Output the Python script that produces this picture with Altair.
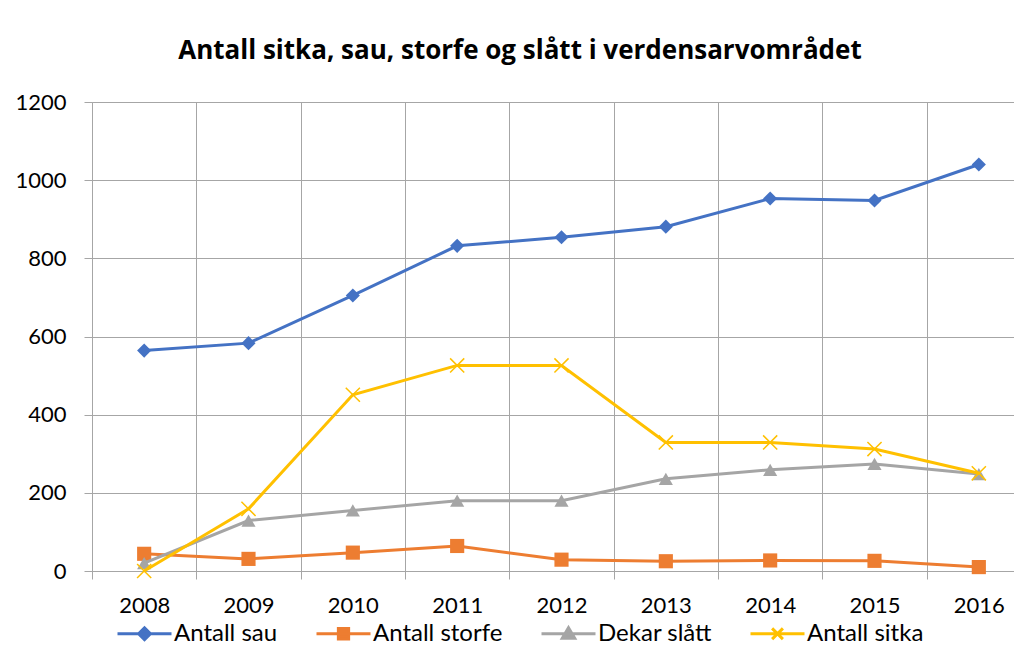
import altair as alt
import pandas as pd

years = ["2008", "2009", "2010", "2011", "2012", "2013", "2014", "2015", "2016"]
series_names = ["Antall sau", "Antall storfe", "Dekar slått", "Antall sitka"]
antall_sau = [564, 583, 705, 832, 854, 881, 953, 948, 1040]
antall_storfe = [44, 31, 47, 64, 29, 25, 27, 26, 10]
dekar_slatt = [20, 129, 155, 180, 180, 236, 259, 274, 248]
antall_sitka = [0, 159, 451, 526, 526, 329, 329, 312, 250]
values_by_series = [antall_sau, antall_storfe, dekar_slatt, antall_sitka]

colors = ["#4472C4", "#ED7D31", "#A5A5A5", "#FFC000"]
marker_shapes = ["diamond", "square", "triangle-up", "M-1,-1L1,1M-1,1L1,-1"]
marker_filled = [True, True, True, False]
legend_shapes = [
    "M-1,0H1M-0.22,0L0,-0.22L0.22,0L0,0.22Z",
    "M-1,0H1M-0.19,-0.19H0.19V0.19H-0.19Z",
    "M-1,0H1M0,-0.22L0.23,0.17H-0.23Z",
    "M-1,0H1M-0.2,-0.2L0.2,0.2M-0.2,0.2L0.2,-0.2",
]
y_ticks = [0, 200, 400, 600, 800, 1000, 1200]
title_text = "Antall sitka, sau, storfe og slått i verdensarvområdet"

rows = []
for name, vals in zip(series_names, values_by_series):
    for yr, v in zip(years, vals):
        rows.append({"year": yr, "series": name, "value": v})
df = pd.DataFrame(rows)

GRID = "#A6A6A6"
FONT = "Lato"

x_enc = alt.X(
    "year:O",
    sort=years,
    scale=alt.Scale(type="band", paddingInner=0, paddingOuter=0, range=[0, 939]),
    axis=alt.Axis(
        title=None, tickBand="extent", grid=True, gridColor=GRID, tickColor=GRID,
        domainColor=GRID, tickSize=8, labelAngle=0, labelFontSize=22, labelFont=FONT,
        labelColor="#000000", labelPadding=16,
    ),
)
y_enc = alt.Y(
    "value:Q",
    scale=alt.Scale(domain=[0, 1200], nice=False),
    axis=alt.Axis(
        title=None, values=y_ticks, format="d", grid=True, gridColor=GRID, tickColor=GRID,
        domainColor=GRID, tickSize=8, labelFontSize=22, labelFont=FONT,
        labelColor="#000000", labelPadding=18,
    ),
)

base = alt.Chart(df)
layers = []
for name, col, shp, filled in zip(series_names, colors, marker_shapes, marker_filled):
    sub = base.transform_filter(alt.datum.series == name)
    layers.append(sub.mark_line(color=col, strokeWidth=3).encode(x=x_enc, y=y_enc))
    if filled:
        pts = sub.mark_point(shape=shp, filled=True, color=col, size=200, opacity=1)
    else:
        pts = sub.mark_point(shape=shp, filled=False, color=col, size=200, strokeWidth=1.5, opacity=1)
    layers.append(pts.encode(x=x_enc, y=y_enc))

series_legend = alt.Legend(
    title=None, orient="none", legendX=24, legendY=503, direction="horizontal",
    symbolSize=2916, symbolStrokeWidth=3, labelFontSize=24, labelFont=FONT,
    labelColor="#000000", labelOffset=1, columnPadding=32, padding=0,
)

legend_layer = base.transform_filter(alt.datum.value < -1).mark_point(
    filled=True, size=2916, opacity=1, strokeWidth=3
).encode(
    x=x_enc,
    y=y_enc,
    fill=alt.Fill("series:N", scale=alt.Scale(domain=series_names, range=colors), legend=series_legend),
    stroke=alt.Stroke("series:N", scale=alt.Scale(domain=series_names, range=colors), legend=series_legend),
    shape=alt.Shape("series:N", scale=alt.Scale(domain=series_names, range=legend_shapes), legend=series_legend),
)
layers.append(legend_layer)

chart = alt.layer(*layers).properties(
    width=922,
    height=469,
    title=alt.TitleParams(
        text=title_text, font="Open Sans", fontSize=26, fontWeight="bold", color="#000000",
        anchor="middle", dx=-33, offset=27,
    ),
    autosize=alt.AutoSizeParams(type="none"),
    padding={"left": 84, "top": 94, "right": 0, "bottom": 80},
).configure_view(strokeWidth=0).configure(background="white")

chart.save("out.html", embed_options={"renderer": "svg", "actions": False})
